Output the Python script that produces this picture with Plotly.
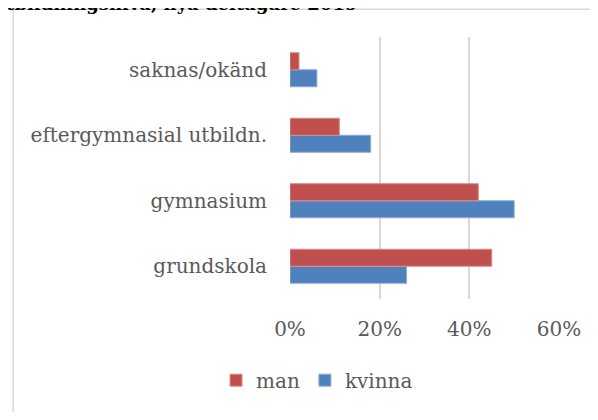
import plotly.graph_objects as go

categories = ["grundskola", "gymnasium", "eftergymnasial utbildn.", "saknas/okänd"]
man = [0.45, 0.42, 0.11, 0.02]
kvinna = [0.26, 0.50, 0.18, 0.06]
x_ticks = [0, 0.2, 0.4, 0.6]
x_tick_labels = ["0%", "20%", "40%", "60%"]
title_text = "utbildningsnivå, nya deltagare 2019"

# page body has an 8px margin; figure coordinates = image coordinates - 8
OFF = 8
W, H = 590, 404
L, R, T, B = 290 - OFF, 558.7 - OFF, 37 - OFF, 305 - OFF
pw, ph = R - L, B - T

def px(x_img):
    return (x_img - OFF - L) / pw

def py(y_img):
    return (B - (y_img - OFF)) / ph

font = "DejaVu Serif"
gray = "#595959"

fig = go.Figure()
fig.add_trace(go.Bar(
    y=categories, x=kvinna, name="kvinna", orientation="h",
    marker=dict(color="#4F81BD", line=dict(color="#8FAADC", width=1)),
))
fig.add_trace(go.Bar(
    y=categories, x=man, name="man", orientation="h",
    marker=dict(color="#C0504D", line=dict(color="#DA8A88", width=1)),
))

fig.update_layout(
    width=W, height=H,
    margin=dict(l=L, r=W - R, t=T, b=H - B, pad=0),
    paper_bgcolor="white", plot_bgcolor="white",
    barmode="group", bargap=0.48, bargroupgap=0,
    font=dict(family=font, size=20, color=gray),
    showlegend=True,
    legend=dict(
        orientation="h", traceorder="reversed",
        x=px(317), xanchor="center", y=py(388), yanchor="middle",
        font=dict(family=font, size=20, color=gray),
        itemwidth=30,
    ),
    xaxis=dict(
        range=[0, 0.6], tickvals=x_ticks, ticktext=x_tick_labels,
        showgrid=True, gridcolor="#D9D9D9", gridwidth=1.5,
        zeroline=False, showline=False, ticks="",
        ticklabelstandoff=16, fixedrange=True,
    ),
    yaxis=dict(
        categoryorder="array", categoryarray=categories,
        showgrid=False, zeroline=False, showline=False, ticks="",
        ticklabelstandoff=22,
    ),
    shapes=[dict(
        type="rect", xref="paper", yref="paper",
        x0=px(13.5), x1=px(640), y0=py(470), y1=py(8.5),
        line=dict(color="#D9D9D9", width=1.5), fillcolor="rgba(0,0,0,0)", layer="below",
    )],
    annotations=[dict(
        text="<b>" + title_text + "</b>", xref="paper", yref="paper",
        x=px(-9), xanchor="left", y=py(15.5), yanchor="bottom",
        showarrow=False, font=dict(family=font, size=18, color="black"),
    )],
)

fig.write_html("out.html")
